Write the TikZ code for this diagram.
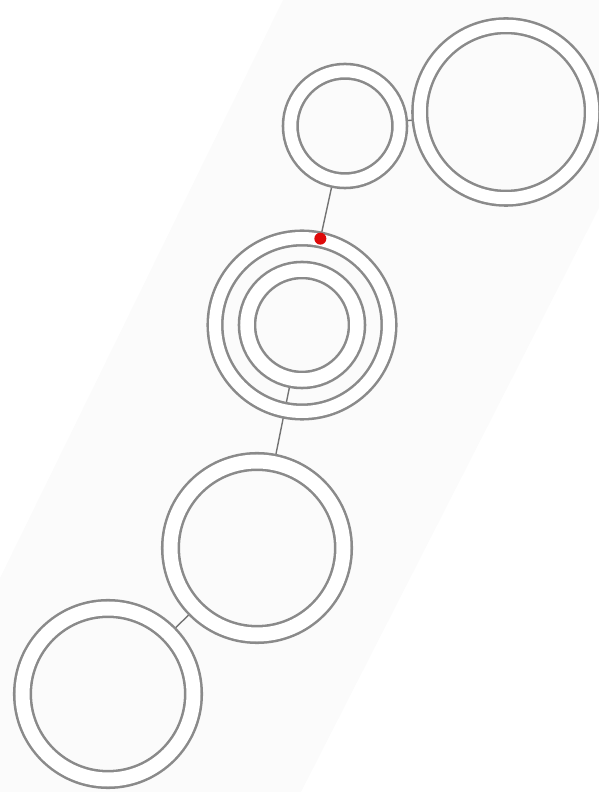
\documentclass[tikz,border=0pt]{standalone}
\usepackage{xcolor}
\definecolor{ringgray}{RGB}{138, 138, 138}
\definecolor{linkgray}{RGB}{115, 115, 115}
\definecolor{bandgray}{RGB}{251, 251, 251}
\definecolor{marker}{RGB}{222, 10, 10}
\usepackage{tikz}
\usetikzlibrary{positioning,backgrounds}

\begin{document}
\begin{tikzpicture}[
  ring/.style={circle, draw=ringgray, line width=1.45pt, double=white, double distance=0.24cm, inner sep=0pt},
  link/.style={draw=linkgray, line width=0.8pt},
  dotmark/.style={circle, fill=marker, inner sep=0pt, minimum size=0.24cm}
]
\useasboundingbox (0,0) rectangle (11.98,15.84);

% Rings
\node[ring, minimum size=2.19cm] (small) at (6.90, 13.32) {};
\node[ring, minimum size=3.45cm] (big) at (10.12, 13.60) {};
\node[ring, minimum size=3.48cm] (outer) at (6.04, 9.34) {};
\node[ring, minimum size=2.20cm, double distance=0.27cm] (inner) at (6.04, 9.34) {};
\node[ring, minimum size=3.46cm, double distance=0.28cm] (lower) at (5.14, 4.88) {};
\node[ring, minimum size=3.42cm, double distance=0.28cm] (corner) at (2.16, 1.96) {};

% Marker on the outer ring
\node[dotmark] (dot) at (outer.78) {};

% Band and connections
\begin{scope}[on background layer]
  \fill[bandgray] (5.66,15.84) -- (11.98,15.84) -- (11.98,11.68) -- (6.02,0) -- (0,0) -- (0,4.28) -- cycle;
  \draw[link] (small) -- (big);
  \draw[link] (small) -- (dot);
  \draw[link] (inner) -- (lower);
  \draw[link] (lower) -- (corner);
\end{scope}

\end{tikzpicture}
\end{document}
